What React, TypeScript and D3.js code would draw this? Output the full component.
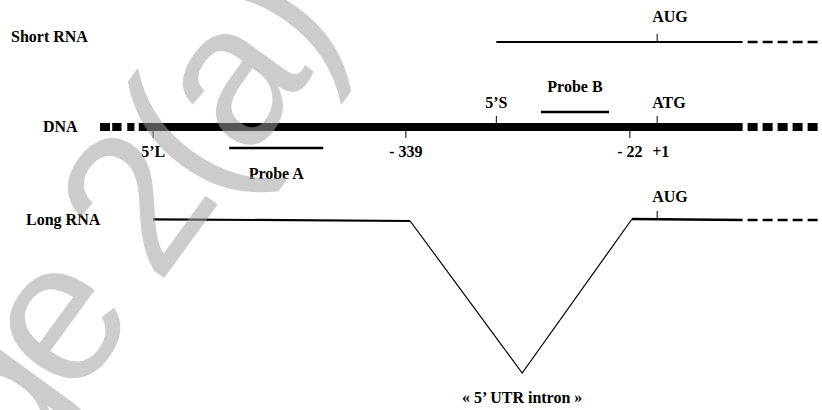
import React from 'react'
import * as d3 from 'd3'

// positions along the gene, in track units (0 = left end of the drawn DNA, 100 = right end)
const dnaExtent = [0, 100]
const dnaSolid = [5.4, 89.5]
const dnaLeftDashes = [[0, 1.4], [1.7, 3.0], [3.8, 4.8]]
const rnaEnd = 100
const shortRnaStart = 55.2
const exon1 = [7.4, 43.2]
const exon2Start = 74.1
const intronBottom = 58.8
const atg = 77.6

// ticks drawn on the DNA bar
const dnaTicks = [
  { name: '5’L', pos: 7.4, side: 'below', anchor: 'middle' },
  { name: '- 339', pos: 42.6, side: 'below', anchor: 'middle' },
  { name: '- 22', pos: 73.8, side: 'below', anchor: 'middle' },
  { name: '5’S', pos: 55.2, side: 'above', anchor: 'middle' },
  { name: 'ATG', pos: 77.6, side: 'above', anchor: 'start' },
]
const probes = [
  { name: 'Probe A', from: 18.0, to: 31.1, side: 'below' },
  { name: 'Probe B', from: 61.4, to: 70.9, side: 'above' },
]
const tracks = ['Short RNA', 'DNA', 'Long RNA']

const W = 822, H = 410
const x = d3.scaleLinear().domain(dnaExtent).range([100, 818])
const y = d3.scaleOrdinal<string, number>().domain(tracks).range([42, 127, 220])
const yIntron = 373
const font = '"Liberation Serif", "Times New Roman", serif'

export default function App() {
  const line = d3.line<[number, number]>().x(d => x(d[0])).y(d => d[1])
  const yS = y('Short RNA'), yD = y('DNA'), yL = y('Long RNA')
  const dashStyle = { stroke: '#000', strokeWidth: 2.5, strokeDasharray: '10,5' }
  const labelOffsets: Record<string, [number, number]> = {
    'Short RNA': [11, 0], DNA: [43, 5], 'Long RNA': [26, 5],
  }
  return (
    <svg width={W} height={H} style={{ position: 'absolute', left: 0, top: 0, background: '#fff' }}
      fontFamily={font} fontWeight="bold" fontSize={16}>
      {tracks.map(t => (
        <text key={t} x={labelOffsets[t][0]} y={y(t) + labelOffsets[t][1]}>{t}</text>
      ))}

      {/* short RNA */}
      <path d={line([[shortRnaStart, yS], [dnaSolid[1], yS]])!} stroke="#000" strokeWidth={2.2} fill="none" />
      <line x1={x(dnaSolid[1]) + 5} x2={x(rnaEnd)} y1={yS} y2={yS} style={dashStyle} />
      <line x1={x(atg)} x2={x(atg)} y1={yS} y2={yS - 8} stroke="#000" strokeWidth={1} />
      <text x={x(atg) - 5} y={yS - 20}>AUG</text>

      {/* DNA */}
      <rect x={x(dnaSolid[0])} width={x(dnaSolid[1]) - x(dnaSolid[0])} y={yD - 4} height={8} fill="#000" />
      {dnaLeftDashes.map((d, i) => (
        <rect key={i} x={x(d[0])} width={x(d[1]) - x(d[0])} y={yD - 4} height={8} fill="#000" />
      ))}
      <line x1={x(dnaSolid[1]) + 5} x2={x(dnaExtent[1])} y1={yD} y2={yD}
        stroke="#000" strokeWidth={8} strokeDasharray="10,5" />
      {dnaTicks.map(t => {
        const below = t.side === 'below'
        return (
          <g key={t.name}>
            <line x1={x(t.pos)} x2={x(t.pos)} y1={below ? yD + 4 : yD - 4} y2={below ? yD + 11 : yD - 11}
              stroke="#000" strokeWidth={1} />
            <text x={t.anchor === 'start' ? x(t.pos) - 5 : x(t.pos)} y={below ? yD + 30 : yD - 19}
              textAnchor={t.anchor}>{t.name}</text>
          </g>
        )
      })}
      <text x={x(atg) - 5} y={yD + 30}>+1</text>
      {probes.map(p => {
        const py = p.side === 'below' ? yD + 21 : yD - 15
        return (
          <g key={p.name}>
            <line x1={x(p.from)} x2={x(p.to)} y1={py} y2={py} stroke="#000" strokeWidth={2.5} />
            <text x={(x(p.from) + x(p.to)) / 2} y={p.side === 'below' ? py + 31 : py - 20}
              textAnchor="middle">{p.name}</text>
          </g>
        )
      })}

      {/* long RNA */}
      <path d={line([[exon1[0], yL - 0.7], [exon1[1], yL + 1]])!} stroke="#000" strokeWidth={2.2} fill="none" />
      <path d={line([[exon1[1], yL + 1], [intronBottom, yIntron], [exon2Start, yL - 1]])!}
        stroke="#000" strokeWidth={1.2} fill="none" />
      <path d={line([[exon2Start, yL - 1], [dnaSolid[1], yL]])!} stroke="#000" strokeWidth={2.5} fill="none" />
      <line x1={x(dnaSolid[1]) + 5} x2={x(rnaEnd)} y1={yL} y2={yL} style={dashStyle} />
      <line x1={x(atg)} x2={x(atg)} y1={yL - 1} y2={yL - 9} stroke="#000" strokeWidth={1} />
      <text x={x(atg) - 5} y={yL - 18}>AUG</text>
      <text x={x(intronBottom)} y={yIntron + 30} textAnchor="middle">« 5’ UTR intron »</text>

      {/* watermark */}
      <g transform="translate(68,322) rotate(-54)">
        <text x={-160} y={52} fontFamily='"Liberation Sans", Arial, sans-serif' fontWeight="normal"
          fontSize={200} letterSpacing={-12} fill="#9f9f9f" fillOpacity={0.53}>ge 2(a)</text>
      </g>
    </svg>
  )
}
